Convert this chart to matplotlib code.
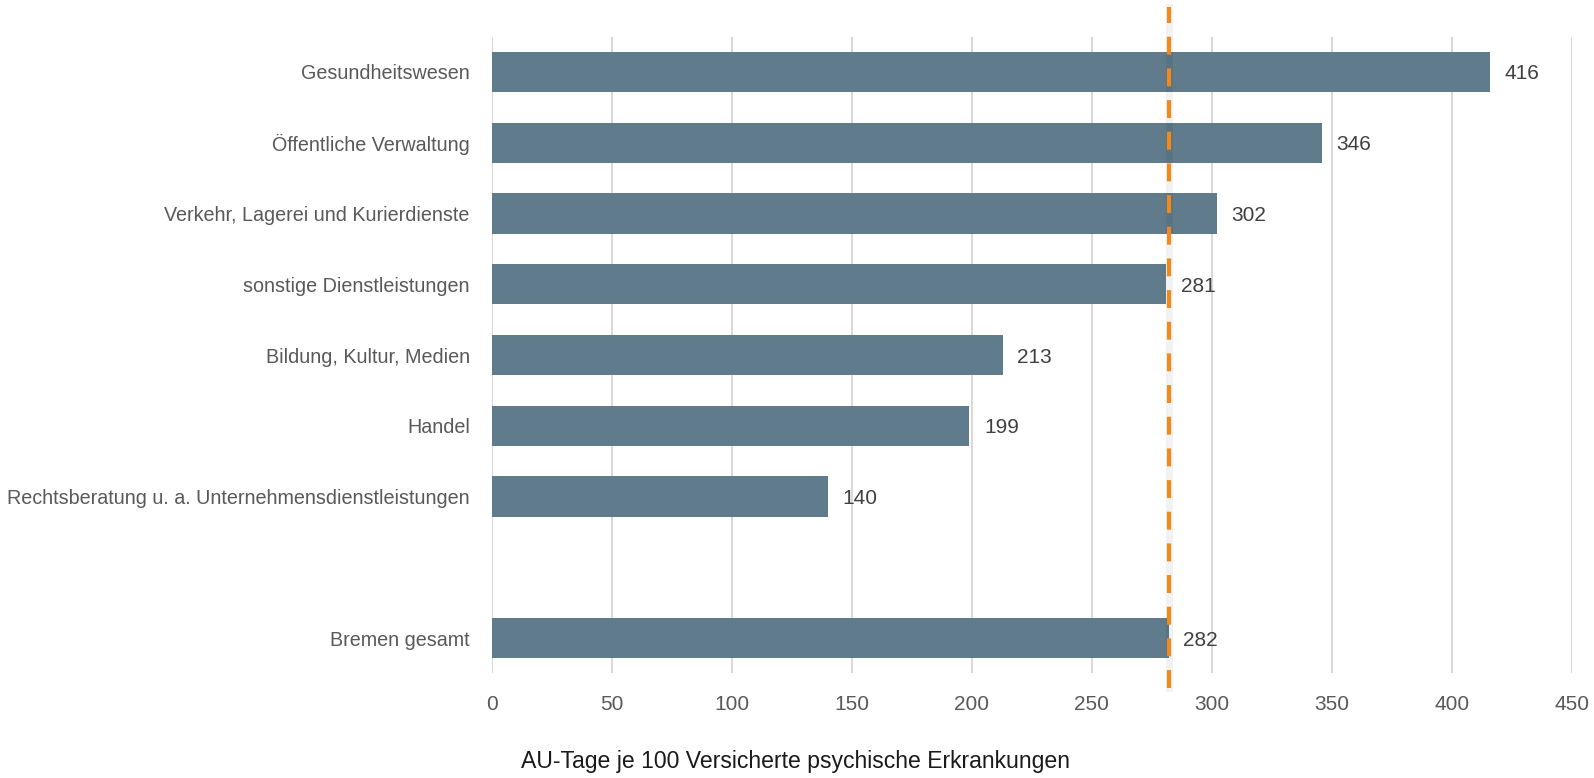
import numpy as np
import matplotlib.pyplot as plt

# AU-Tage je 100 Versicherte, psychische Erkrankungen
branchen = [
    "Gesundheitswesen",
    "Öffentliche Verwaltung",
    "Verkehr, Lagerei und Kurierdienste",
    "sonstige Dienstleistungen",
    "Bildung, Kultur, Medien",
    "Handel",
    "Rechtsberatung u. a. Unternehmensdienstleistungen",
    "",
    "Bremen gesamt",
]
werte = [416, 346, 302, 281, 213, 199, 140, None, 282]
gesamt = 282
xticks = [0, 50, 100, 150, 200, 250, 300, 350, 400, 450]

plt.rcParams['font.family'] = ['Liberation Sans', 'DejaVu Sans']

fig = plt.figure(figsize=(15.94, 7.78), dpi=100)
ax = fig.add_axes([0.3087, 0.1344, 0.986 - 0.3087, 0.953 - 0.1344])

y = np.arange(len(branchen))
for i, v in enumerate(werte):
    if v is None:
        continue
    ax.barh(y[i], v, height=0.57, color='#607b8b', zorder=2)
    ax.text(v + 6, y[i], str(v), va='center_baseline', ha='left', fontsize=15, color='#404040')

ax.set_ylim(len(branchen) - 0.5, -0.5)
ax.set_xlim(0, 450)
ax.set_yticks(y)
ax.set_yticklabels(branchen, fontsize=14.2, color='#595959')
ax.set_xticks(xticks)
ax.set_xticklabels([str(t) for t in xticks], fontsize=15, color='#595959')
ax.tick_params(axis='both', length=0)
ax.tick_params(axis='y', pad=16)
ax.tick_params(axis='x', pad=15.5)
for s in ax.spines.values():
    s.set_visible(False)
ax.grid(axis='x', color='#d9d9d9', lw=1.5, zorder=0)

# Referenzlinie Bremen gesamt (mit leichtem Schatten)
ax.axvline(gesamt, ymin=-0.023, ymax=1.046, color='black', lw=5, alpha=0.05,
           clip_on=False, zorder=3)
ax.axvline(gesamt, ymin=-0.023, ymax=1.046, color='#f08a1c', lw=3,
           linestyle=(0, (4.3, 3.3)), clip_on=False, zorder=4)

fig.text(0.499, 0.021, "AU-Tage je 100 Versicherte psychische Erkrankungen",
         ha='center', va='center', fontsize=16.6, color='#1a1a1a')

fig.savefig('out.png', dpi=100)
